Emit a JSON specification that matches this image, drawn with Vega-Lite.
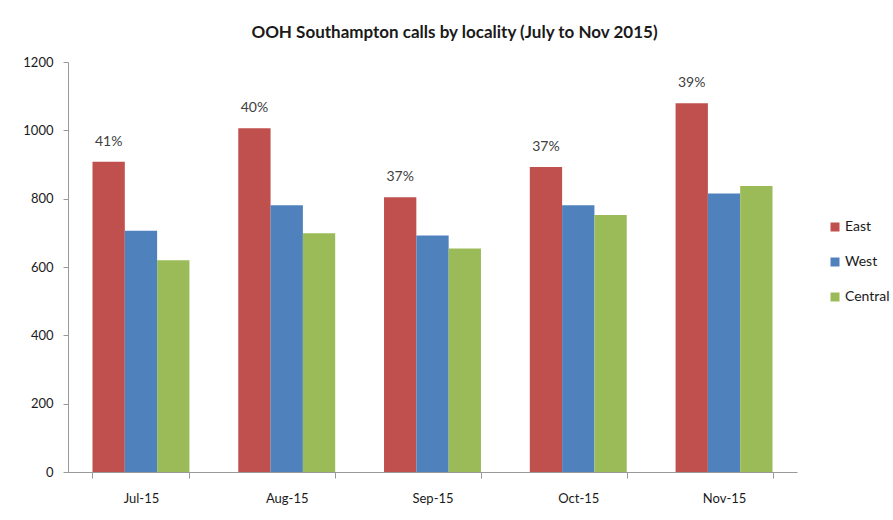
{
  "$schema": "https://vega.github.io/schema/vega-lite/v6.json",
  "width": 729,
  "height": 410,
  "autosize": {"type": "none"},
  "padding": {"left": 68, "top": 62, "right": 96, "bottom": 48},
  "background": "white",
  "title": {
    "text": "OOH Southampton calls by locality (July to Nov 2015)",
    "font": "Lato",
    "fontSize": 17,
    "fontWeight": "bold",
    "color": "#1a1a1a",
    "anchor": "middle",
    "dx": 22,
    "offset": 14
  },
  "data": {
    "values": [
      {"month": "Jul-15", "locality": "East", "calls": 908, "pct": "41%"},
      {"month": "Jul-15", "locality": "West", "calls": 706},
      {"month": "Jul-15", "locality": "Central", "calls": 620},
      {"month": "Aug-15", "locality": "East", "calls": 1006, "pct": "40%"},
      {"month": "Aug-15", "locality": "West", "calls": 781},
      {"month": "Aug-15", "locality": "Central", "calls": 699},
      {"month": "Sep-15", "locality": "East", "calls": 804, "pct": "37%"},
      {"month": "Sep-15", "locality": "West", "calls": 692},
      {"month": "Sep-15", "locality": "Central", "calls": 654},
      {"month": "Oct-15", "locality": "East", "calls": 893, "pct": "37%"},
      {"month": "Oct-15", "locality": "West", "calls": 781},
      {"month": "Oct-15", "locality": "Central", "calls": 752},
      {"month": "Nov-15", "locality": "East", "calls": 1079, "pct": "39%"},
      {"month": "Nov-15", "locality": "West", "calls": 815},
      {"month": "Nov-15", "locality": "Central", "calls": 837}
    ]
  },
  "encoding": {
    "x": {
      "field": "month",
      "type": "nominal",
      "sort": ["Jul-15", "Aug-15", "Sep-15", "Oct-15", "Nov-15"],
      "scale": {"paddingInner": 0.335, "paddingOuter": 0.168},
      "axis": {
        "title": null,
        "labelAngle": 0,
        "labelFont": "Lato",
        "labelFontSize": 13,
        "labelColor": "#1a1a1a",
        "labelPadding": 14,
        "domainColor": "#999999",
        "tickColor": "#999999",
        "tickSize": 6,
        "tickBand": "extent"
      }
    },
    "xOffset": {
      "field": "locality",
      "type": "nominal",
      "sort": ["East", "West", "Central"],
      "scale": {"paddingInner": 0, "paddingOuter": 0}
    },
    "y": {
      "field": "calls",
      "type": "quantitative",
      "scale": {"domain": [0, 1200], "nice": false},
      "axis": {
        "title": null,
        "values": [0, 200, 400, 600, 800, 1000, 1200],
        "format": "d",
        "grid": false,
        "labelFont": "Lato",
        "labelFontSize": 13,
        "labelColor": "#1a1a1a",
        "labelPadding": 10,
        "domainColor": "#999999",
        "tickColor": "#999999",
        "tickSize": 5
      }
    }
  },
  "layer": [
    {
      "mark": {"type": "bar"},
      "encoding": {
        "color": {
          "field": "locality",
          "type": "nominal",
          "sort": ["East", "West", "Central"],
          "scale": {"domain": ["East", "West", "Central"], "range": ["#C0504D", "#4F81BD", "#9BBB59"]},
          "legend": {
            "title": null,
            "orient": "none",
            "legendX": 760,
            "legendY": 158,
            "symbolType": "square",
            "symbolSize": 81,
            "symbolStrokeWidth": 0,
            "labelFont": "Lato",
            "labelFontSize": 14,
            "labelColor": "#1a1a1a",
            "rowPadding": 21,
            "labelOffset": 3
          }
        }
      }
    },
    {
      "transform": [{"filter": "datum.locality === 'East'"}],
      "mark": {"type": "text", "dy": -20, "font": "Lato", "fontSize": 14, "color": "#404040"},
      "encoding": {
        "text": {"field": "pct"}
      }
    }
  ],
  "config": {
    "view": {"stroke": null}
  }
}
